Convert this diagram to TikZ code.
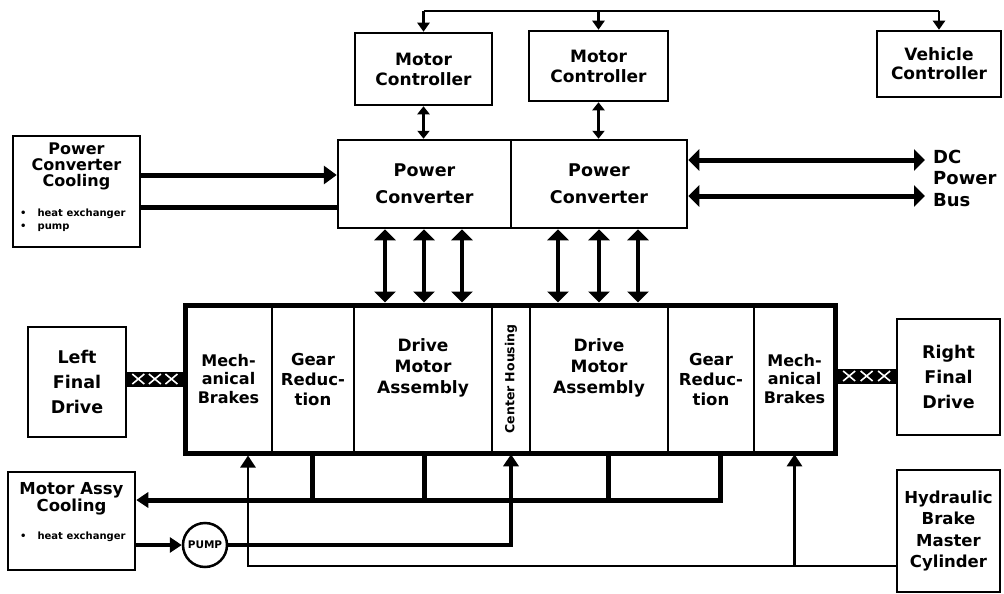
\documentclass[tikz,border=0pt]{standalone}
\usepackage{fontspec}
\setmainfont{DejaVu Sans}
\usetikzlibrary{arrows.meta,decorations.markings}
\begin{document}
\begin{tikzpicture}[x=1pt,y=-1pt,
  box/.style={draw, line width=2.5pt, inner sep=0pt, align=center, font=\bfseries\fontsize{17}{20}\selectfont},
  cell/.style={draw, line width=2.5pt, inner sep=0pt, minimum height=148pt, align=center, font=\bfseries\fontsize{16.5}{20}\selectfont},
  lbl/.style={inner sep=0pt, align=center},
  bullet/.style={inner sep=0pt, anchor=west, font=\bfseries\fontsize{10}{11}\selectfont},
  thickline/.style={line width=5pt},
  medline/.style={line width=4.5pt},
  thinline/.style={line width=2.5pt},
  bidir/.style={arrows={Triangle[width=21pt,length=11pt]-Triangle[width=21pt,length=11pt]}},
  bigtip/.style={arrows={-Triangle[width=18pt,length=13pt]}},
  midtip/.style={arrows={-Triangle[width=15pt,length=12pt]}},
  smalltip/.style={arrows={-Triangle[width=12pt,length=9pt]}},
  smallbidir/.style={arrows={Triangle[width=12pt,length=8pt]-Triangle[width=12pt,length=8pt]}},
  shaft/.style={line width=15pt,
    postaction={decorate, decoration={markings,
      mark=between positions 0.2 and 0.85 step 0.3 with {\draw[white, line width=1.6pt] (-6pt,-5pt) -- (6pt,5pt) (-6pt,5pt) -- (6pt,-5pt);}}}}
]
\useasboundingbox (0,0) rectangle (1004,594);

% controllers
\node[box, minimum width=137pt, minimum height=72pt] (mc1) at (423.5,69) {Motor\\Controller};
\node[box, minimum width=139pt, minimum height=70pt] (mc2) at (598.5,66) {Motor\\Controller};
\node[box, minimum width=124pt, minimum height=66pt, font=\bfseries\fontsize{17}{19}\selectfont] (vc) at (939,64) {Vehicle\\Controller};

% power converters
\node[box, minimum width=173pt, minimum height=88pt, font=\bfseries\fontsize{17.5}{27}\selectfont] (pc1) at (424.5,184) {Power\\Converter};
\node[box, minimum width=176pt, minimum height=88pt, font=\bfseries\fontsize{17.5}{27}\selectfont] (pc2) at (599,184) {Power\\Converter};

% power converter cooling
\node[box, minimum width=127pt, minimum height=111pt] (pcc) at (76.5,191.5) {};
\node[lbl, anchor=north, font=\bfseries\fontsize{16}{16}\selectfont] (pcct) at (76.5,143) {Power\\Converter\\Cooling};
\node[bullet] (pccb1) at (20,214) {•\hspace{11pt}heat exchanger};
\node[bullet] (pccb2) at (20,228) {•\hspace{11pt}pump};

% final drives
\node[box, minimum width=98pt, minimum height=110pt, font=\bfseries\fontsize{17.5}{25}\selectfont] (lfd) at (77,382) {Left\\Final\\Drive};
\node[box, minimum width=103pt, minimum height=116pt, font=\bfseries\fontsize{17.5}{25}\selectfont] (rfd) at (948.5,377) {Right\\Final\\Drive};

% motor assy cooling
\node[box, minimum width=127pt, minimum height=98pt] (mac) at (71.5,521) {};
\node[lbl, font=\bfseries\fontsize{16.5}{17}\selectfont] (mact) at (71.5,499) {Motor Assy\\Cooling};
\node[bullet] (macb) at (20,537) {•\hspace{11pt}heat exchanger};

% hydraulic brake
\node[box, minimum width=103pt, minimum height=122pt, font=\bfseries\fontsize{16.5}{21.5}\selectfont] (hb) at (948.5,531) {Hydraulic\\Brake\\Master\\Cylinder};

% pump
\node[draw, circle, line width=2.5pt, minimum size=44pt, inner sep=0pt, font=\bfseries\fontsize{10.5}{11}\selectfont] (pump) at (205,545) {PUMP};

% main block cells
\node[cell, minimum width=87pt, font=\bfseries\fontsize{16}{18.5}\selectfont] (mb1) at (228.5,379) {Mech-\\anical\\Brakes};
\node[cell, minimum width=82pt] (gr1) at (313,379) {Gear\\Reduc-\\tion};
\node[cell, minimum width=138pt, font=\bfseries\fontsize{17}{21}\selectfont] (dm1) at (423,379) {Drive\\Motor\\Assembly\\[4pt]};
\node[cell, minimum width=38pt] (ch) at (511,379) {};
\node[lbl, rotate=90, font=\bfseries\fontsize{12.5}{13}\selectfont] (cht) at (ch) {Center Housing};
\node[cell, minimum width=138pt, font=\bfseries\fontsize{17}{21}\selectfont] (dm2) at (599,379) {Drive\\Motor\\Assembly\\[4pt]};
\node[cell, minimum width=86pt] (gr2) at (711,379) {Gear\\Reduc-\\tion};
\node[cell, minimum width=81pt, font=\bfseries\fontsize{16}{18.5}\selectfont] (mb2) at (794.5,379) {Mech-\\anical\\Brakes};
\node[draw, line width=5pt, minimum width=650pt, minimum height=148pt, inner sep=0pt] (block) at (510,379) {};

% top controller bus
\coordinate (bus) at (598,11);
\draw[thinline] (mc1.north |- bus) -- (vc.north |- bus);
\draw[thinline, smalltip] (mc1.north |- bus) -- (mc1.north);
\draw[thinline, smalltip] (mc2.north |- bus) -- (mc2.north);
\draw[thinline, smalltip] (vc.north |- bus) -- (vc.north);

% controller <-> converter
\draw[thinline, smallbidir] (mc1.south) -- (mc1.south |- pc1.north);
\draw[thinline, smallbidir] (mc2.south) -- (mc2.south |- pc2.north);

% cooling to converter
\coordinate (cool1) at (0,175);
\coordinate (cool2) at (0,207);
\draw[thickline, bigtip] (pcc.east |- cool1) -- (pc1.west |- cool1);
\draw[thickline] (pcc.east |- cool2) -- (pc1.west |- cool2);

% DC power bus
\coordinate (dc1) at (925,160);
\coordinate (dc2) at (925,196);
\draw[thickline, bidir] (pc2.east |- dc1) -- (dc1);
\draw[thickline, bidir] (pc2.east |- dc2) -- (dc2);
\node[lbl, anchor=west, align=left, font=\bfseries\fontsize{18}{21.5}\selectfont] (dct) at (933,178) {DC\\Power\\Bus};

% converter <-> motor assembly
\foreach \x in {385,424,462,558,599,638} {
  \coordinate (v\x) at (\x,0);
  \draw[medline, bidir] (v\x |- pc1.south) -- (v\x |- block.north);
}

% shafts
\coordinate (sl) at (0,379);
\coordinate (sr) at (0,376);
\draw[shaft] (lfd.east |- sl) -- (block.west |- sl);
\draw[shaft] (block.east |- sr) -- (rfd.west |- sr);

% cooling return
\coordinate (ret) at (0,500);
\coordinate (r312) at (312,0);
\coordinate (r424) at (424,0);
\coordinate (r608) at (608,0);
\coordinate (r720) at (720,0);
\draw[thickline, midtip] (r720 |- block.south) -- (r720 |- ret) -- (mac.east |- ret);
\draw[thickline] (r312 |- block.south) -- (r312 |- ret);
\draw[thickline] (r424 |- block.south) -- (r424 |- ret);
\draw[thickline] (r608 |- block.south) -- (r608 |- ret);

% pump line
\draw[medline, midtip] (mac.east |- pump) -- (pump.west);
\draw[medline, midtip] (pump.east) -- (ch.south |- pump) -- (ch.south);

% hydraulic brake line
\coordinate (hyd) at (248,566);
\coordinate (h248) at (248,0);
\draw[thinline, midtip] (hb.west |- hyd) -- (hyd) -- (h248 |- block.south);
\draw[thinline, midtip] (mb2.south |- hyd) -- (mb2.south);
\end{tikzpicture}
\end{document}
